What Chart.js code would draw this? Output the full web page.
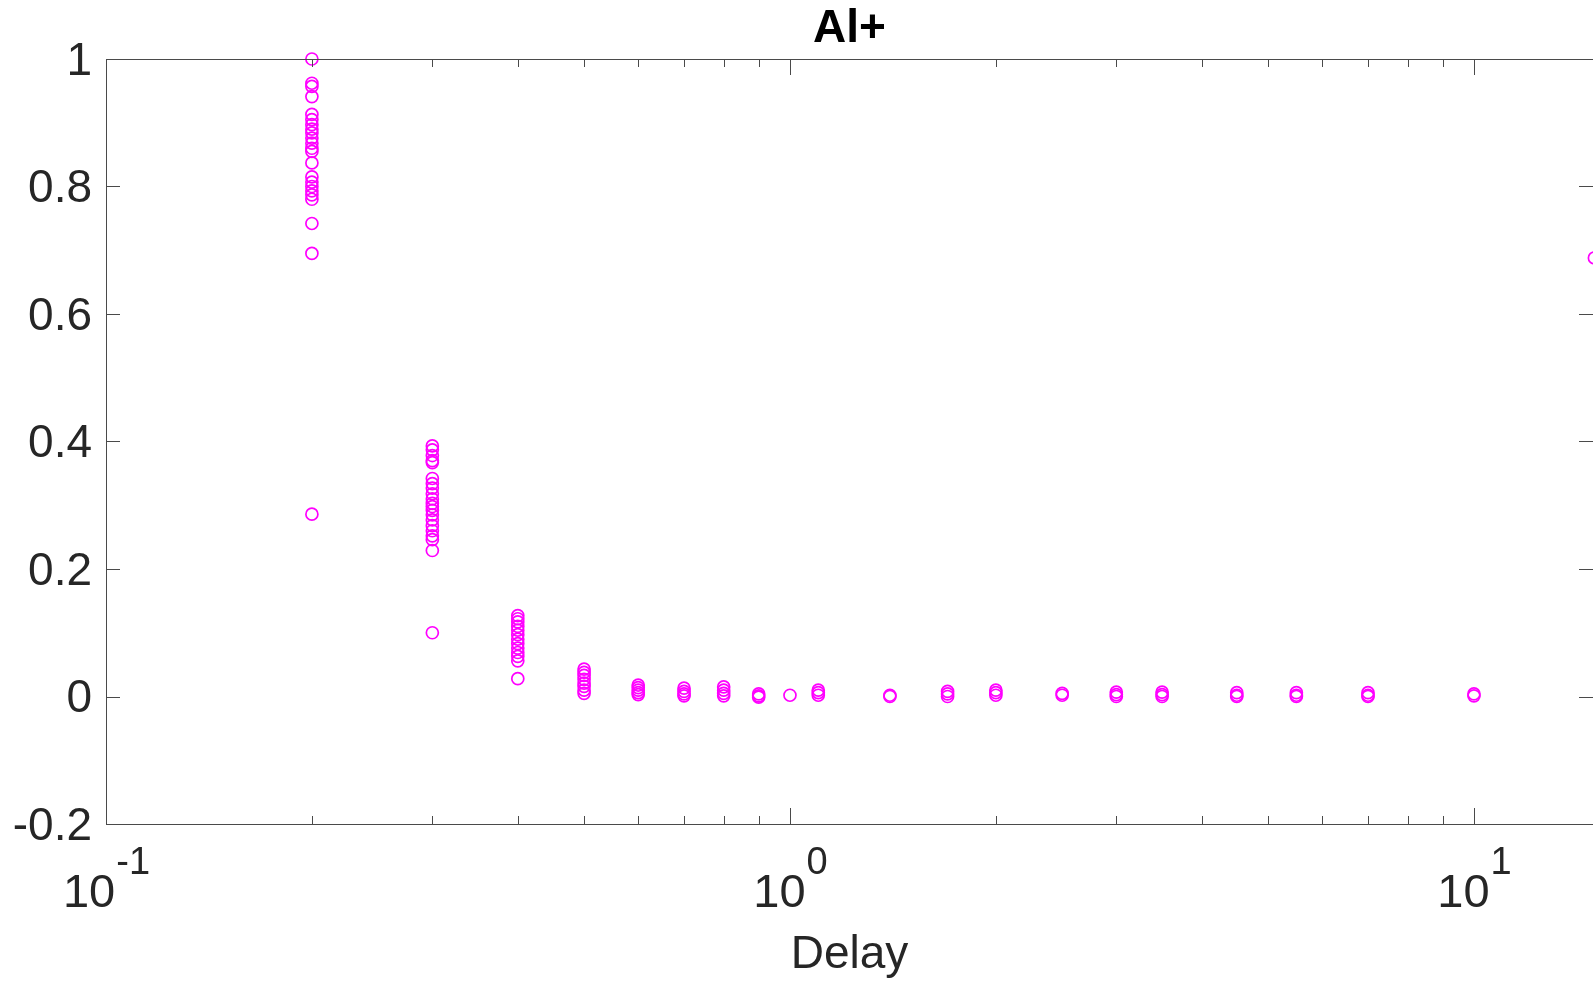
<!DOCTYPE html>
<html>
<head>
<meta charset="utf-8">
<title>Al+</title>
<script src="https://cdn.jsdelivr.net/npm/chart.js@4.4.1/dist/chart.umd.min.js"></script>
<style>
  body { margin: 0; background: #fff; }
  #wrap { width: 1593px; height: 983px; }
</style>
</head>
<body>
<div id="wrap"><canvas id="chart" width="1593" height="983"></canvas></div>
<script>
// Delay values (x) and the measured values at each delay (y)
const delays = [0.2, 0.3, 0.4, 0.5, 0.6, 0.7, 0.8, 0.9, 1.0, 1.1, 1.4, 1.7, 2.0, 2.5, 3.0, 3.5, 4.5, 5.5, 7.0, 10.0, 15.0];

const at0_2 = [1.0, 0.962, 0.957, 0.941, 0.913, 0.905, 0.897, 0.89, 0.884, 0.876, 0.868, 0.86, 0.855, 0.837, 0.815, 0.807, 0.80, 0.793, 0.787, 0.78, 0.742, 0.695, 0.286];
const at0_3 = [0.393, 0.387, 0.378, 0.370, 0.367, 0.342, 0.334, 0.327, 0.318, 0.31, 0.303, 0.298, 0.292, 0.285, 0.277, 0.268, 0.26, 0.252, 0.246, 0.229, 0.100];
const at0_4 = [0.127, 0.122, 0.117, 0.11, 0.104, 0.097, 0.09, 0.083, 0.076, 0.069, 0.063, 0.056, 0.028];
const at0_5 = [0.043, 0.038, 0.033, 0.027, 0.021, 0.016, 0.01, 0.005];
const at0_6 = [0.018, 0.014, 0.01, 0.006, 0.003];
const at0_7 = [0.013, 0.008, 0.004, 0.001];
const at0_8 = [0.015, 0.01, 0.005, 0.001];
const at0_9 = [0.004, 0.001, -0.001];
const at1_0 = [0.002];
const at1_1 = [0.01, 0.006, 0.002];
const at1_4 = [0.002, 0.0];
const at1_7 = [0.008, 0.004, 0.0];
const at2_0 = [0.01, 0.006, 0.002];
const at2_5 = [0.005, 0.002];
const at3_0 = [0.007, 0.003, 0.0];
const at3_5 = [0.007, 0.003, 0.0];
const at4_5 = [0.006, 0.002, 0.0];
const at5_5 = [0.006, 0.002, 0.0];
const at7_0 = [0.006, 0.002, 0.0];
const at10 = [0.004, 0.001];
const at15 = [0.688, 0.0];

const groups = [at0_2, at0_3, at0_4, at0_5, at0_6, at0_7, at0_8, at0_9, at1_0, at1_1, at1_4,
                at1_7, at2_0, at2_5, at3_0, at3_5, at4_5, at5_5, at7_0, at10, at15];

// axis ticks
const xMajor = [0.1, 1, 10];
const xExponents = ['-1', '0', '1'];
const xMinor = [0.2, 0.3, 0.4, 0.5, 0.6, 0.7, 0.8, 0.9, 2, 3, 4, 5, 6, 7, 8, 9];
const yTicks = [-0.2, 0, 0.2, 0.4, 0.6, 0.8, 1];

const points = [];
delays.forEach((d, i) => {
  groups[i].forEach(v => points.push({ x: d, y: v }));
});

const FONT = "'Liberation Sans', Arial, Helvetica, sans-serif";
const TEXT = '#262626';

// box, inward ticks and 10^n labels, MATLAB style
const axesBox = {
  id: 'axesBox',
  afterDraw(chart) {
    const ctx = chart.ctx;
    const a = chart.chartArea;
    const xs = chart.scales.x;
    const ys = chart.scales.y;
    ctx.save();
    ctx.strokeStyle = '#4a4a4a';
    ctx.lineWidth = 1;
    ctx.strokeRect(a.left + 0.5, a.top + 0.5, a.right - a.left, a.bottom - a.top);

    ctx.beginPath();
    const tick = (x, len) => {
      const px = Math.round(xs.getPixelForValue(x)) + 0.5;
      ctx.moveTo(px, a.bottom); ctx.lineTo(px, a.bottom - len);
      ctx.moveTo(px, a.top); ctx.lineTo(px, a.top + len);
    };
    xMajor.forEach(x => tick(x, 16));
    xMinor.forEach(x => tick(x, 8));
    yTicks.forEach(y => {
      const py = Math.round(ys.getPixelForValue(y)) + 0.5;
      ctx.moveTo(a.left, py); ctx.lineTo(a.left + 14, py);
      ctx.moveTo(a.right, py); ctx.lineTo(a.right - 14, py);
    });
    ctx.stroke();

    // x tick labels with superscript exponents
    ctx.fillStyle = TEXT;
    ctx.textBaseline = 'alphabetic';
    ctx.textAlign = 'left';
    xMajor.forEach((x, i) => {
      const px = xs.getPixelForValue(x);
      ctx.font = '47px ' + FONT;
      const wBase = ctx.measureText('10').width;
      ctx.font = '38px ' + FONT;
      const wExp = ctx.measureText(xExponents[i]).width;
      const start = px - (wBase + wExp) / 2;
      ctx.font = '47px ' + FONT;
      ctx.fillText('10', start, 907);
      ctx.font = '38px ' + FONT;
      ctx.fillText(xExponents[i], start + wBase + 1, 874);
    });
    ctx.restore();
  }
};

new Chart(document.getElementById('chart'), {
  type: 'scatter',
  data: {
    datasets: [{
      label: 'Al+',
      data: points,
      borderColor: '#ff00ff',
      backgroundColor: 'rgba(0,0,0,0)',
      pointStyle: 'circle',
      pointRadius: 6,
      pointBorderWidth: 1.7,
      pointHoverRadius: 6,
      clip: false
    }]
  },
  options: {
    responsive: false,
    animation: false,
    devicePixelRatio: 1,
    layout: { padding: 0, autoPadding: false },
    plugins: {
      legend: { display: false },
      tooltip: { enabled: false },
      title: {
        display: true,
        text: 'Al+',
        fullSize: false,
        color: '#000',
        font: { family: FONT, size: 46, weight: 'bold', lineHeight: 1.2 },
        padding: { top: 2, bottom: 1.8 }
      }
    },
    scales: {
      x: {
        type: 'logarithmic',
        min: 0.1,
        max: 14.93,
        grid: { display: false, drawTicks: false },
        border: { display: false },
        ticks: { display: false },
        title: {
          display: true,
          text: 'Delay',
          color: TEXT,
          font: { family: FONT, size: 46, lineHeight: 1.2 },
          padding: { top: 0, bottom: 0 }
        },
        afterFit(scale) { scale.height = 159; }
      },
      y: {
        min: -0.2,
        max: 1,
        grid: { display: false, drawTicks: false },
        border: { display: false },
        ticks: {
          stepSize: 0.2,
          color: TEXT,
          padding: 14,
          labelOffset: 3,
          font: { family: FONT, size: 46 },
          callback: v => String(Number(v.toFixed(1)))
        },
        afterFit(scale) { scale.width = 106; }
      }
    }
  },
  plugins: [axesBox]
});
</script>
</body>
</html>
